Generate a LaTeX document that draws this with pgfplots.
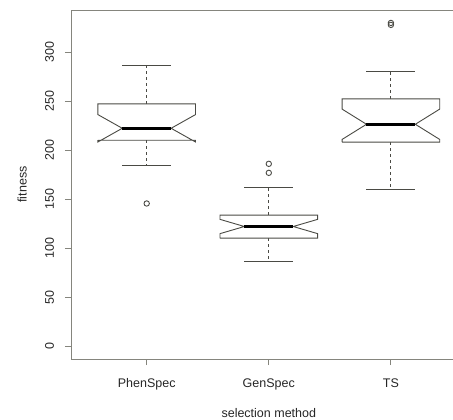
\documentclass[border=0pt]{standalone}
\usepackage{fontspec}
\setmainfont{Liberation Sans}
\usepackage{pgfplots}
\pgfplotsset{compat=1.18}

\definecolor{axisgray}{HTML}{85857D}
\definecolor{boxgray}{HTML}{4A4A44}

\pgfplotsset{
  boxline/.style={draw=boxgray, line width=0.9bp, fill=white},
  whisk/.style={draw=boxgray, line width=0.9bp, dash pattern=on 3bp off 3bp},
  cap/.style={draw=boxgray, line width=0.9bp},
  medline/.style={draw=black, line width=2.6bp},
}

% notched box: #1 x, #2 lower whisker, #3 q1, #4 notch low, #5 median,
% #6 notch high, #7 q3, #8 upper whisker
\newcommand{\notchbox}[8]{%
  \pgfmathsetmacro\xl{#1-0.4}\pgfmathsetmacro\xr{#1+0.4}%
  \pgfmathsetmacro\nl{#1-0.2}\pgfmathsetmacro\nr{#1+0.2}%
  \edef\temp{%
    \noexpand\addplot[whisk] coordinates {(#1,#7) (#1,#8)};
    \noexpand\addplot[whisk] coordinates {(#1,#3) (#1,#2)};
    \noexpand\addplot[cap] coordinates {(\nl,#8) (\nr,#8)};
    \noexpand\addplot[cap] coordinates {(\nl,#2) (\nr,#2)};
    \noexpand\addplot[boxline] coordinates {(\xl,#3) (\xl,#4) (\nl,#5) (\xl,#6) (\xl,#7)
      (\xr,#7) (\xr,#6) (\nr,#5) (\xr,#4) (\xr,#3) (\xl,#3)};
    \noexpand\addplot[medline] coordinates {(\nl,#5) (\nr,#5)};
  }\temp
}

\begin{document}
\begin{tikzpicture}
\begin{axis}[
  scale only axis,
  width=395.6bp, height=349bp,
  xmin=0.38, xmax=3.62,
  ymin=-13.2, ymax=343.2,
  axis line style={draw=axisgray, line width=0.9bp},
  tick style={draw=axisgray, line width=0.9bp},
  tick align=outside,
  major tick length=6bp,
  xtick pos=left, ytick pos=left,
  xtick={1,2,3},
  xticklabels={PhenSpec,GenSpec,TS},
  ytick={0,50,100,150,200,250,300},
  /pgf/number format/assume math mode=true,
  tick label style={font=\fontsize{12.5bp}{15bp}\selectfont, text=black!85},
  label style={font=\fontsize{12.5bp}{15bp}\selectfont, text=black!85},
  yticklabel style={xshift=-11bp, rotate=90, anchor=base},
  xticklabel style={yshift=-22bp, anchor=base},
  xlabel={selection method},
  ylabel={fitness},
  xlabel style={at={(axis description cs:0.5,-0.169)}, anchor=base},
  ylabel style={at={(axis description cs:-0.112,0.5)}, anchor=base, rotate=0},
]
\notchbox{1}{184.7}{210.2}{208.4}{222.4}{236.4}{247.3}{286.7}
\notchbox{2}{86.1}{110.2}{114.8}{122.1}{129.4}{133.7}{162.2}
\notchbox{3}{159.9}{208.2}{211.0}{226.5}{242.0}{252.4}{280.3}
\addplot[only marks, mark=o, mark size=2.7bp, draw=boxgray, mark options={line width=0.9bp}]
  coordinates {(1,145.6) (2,176.9) (2,186.1) (3,328.0) (3,330.0)};
\end{axis}
\pgfresetboundingbox
\path[use as bounding box] (-71bp,-61bp) rectangle (382bp,359bp);
\end{tikzpicture}
\end{document}
